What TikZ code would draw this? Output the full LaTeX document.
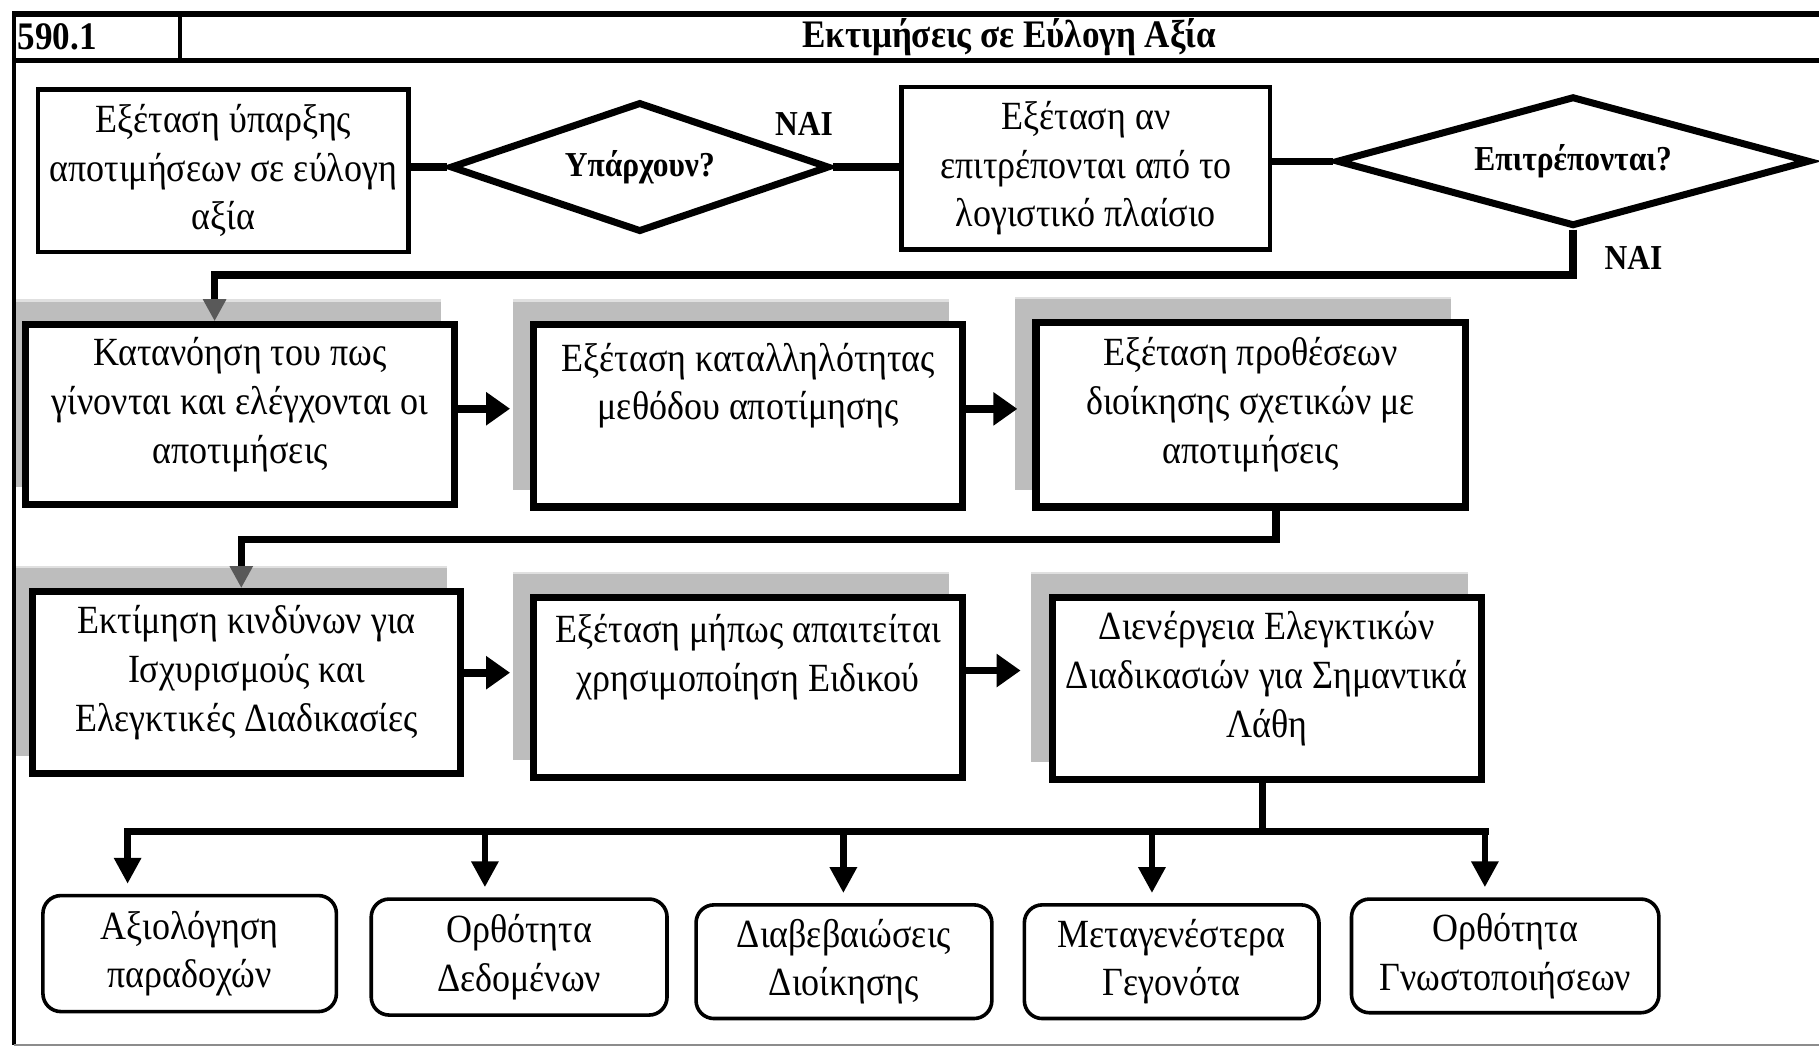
\documentclass[tikz,border=0pt]{standalone}
\usepackage{fontspec}
\setmainfont[FakeStretch=0.9]{Liberation Serif}
\usetikzlibrary{shapes.geometric,arrows.meta,backgrounds,calc}
\begin{document}
\begin{tikzpicture}[x=0.58pt,y=-0.58pt,
  wh/.style 2 args={minimum width=#1*0.58pt, minimum height=#2*0.58pt},
  txt/.style={font=\fontsize{20}{24.4}\selectfont, align=center, inner sep=0pt},
  boldtxt/.style={font=\fontsize{17.5}{20}\selectfont\bfseries, inner sep=0pt},
  headtxt/.style={font=\fontsize{19.5}{22}\selectfont\bfseries, inner sep=0pt},
  thinbox/.style={txt, draw, line width=2.2pt, fill=white},
  thickbox/.style={draw, line width=3.6pt, fill=white, inner sep=0pt},
  intext/.style={txt, yshift=5pt},
  roundbox/.style={txt, draw, line width=1.8pt, rounded corners=9pt, fill=white},
  decision/.style={boldtxt, draw, diamond, aspect=2.9, line width=3.5pt, fill=white},
  link/.style={line width=3.6pt},
  harrow/.style={line width=3.8pt, -{Triangle[length=12pt,width=16pt]}},
  darrow/.style={line width=3.2pt, -{Triangle[length=13pt,width=13pt]}},
  garrow/.style={line width=3.6pt, -{Triangle[length=11pt,width=11pt,color=black!65]}},
  shade/.style={fill=black!26},
  shadetop/.style={draw=black!12, line width=1.2pt},
]
\useasboundingbox (0,0) rectangle (1568,904);

% frame
\draw[line width=2.8pt] (10.5,12) -- (1568,12);
\draw[line width=2.8pt] (10.5,52) -- (1568,52);
\draw[line width=1.8pt] (155,12) -- (155,52);
\draw[line width=1.6pt] (12,11) -- (12,901);
\draw[line width=1pt, black!45] (12,901) -- (1568,901);

\node[headtxt, anchor=west] (num) at (15,32) {590.1};
\node[headtxt] (title) at (870,32) {Εκτιμήσεις σε Εύλογη Αξία};

% row 1
\node[thinbox, wh={319}{140}] (a) at (192.5,147) {Εξέταση ύπαρξης\\αποτιμήσεων σε εύλογη\\αξία};
\node[decision, wh={327}{112}] (d1) at (551.5,144) {Υπάρχουν?};
\node[thinbox, wh={318}{140}] (b) at (936,145) {Εξέταση αν\\επιτρέπονται από το\\λογιστικό πλαίσιο};
\node[decision, wh={408}{112}] (d2) at (1356,139) {Επιτρέπονται?};
\node[boldtxt] (yes1) at (693,107) {ΝΑΙ};
\node[boldtxt] (yes2) at (1408,222) {ΝΑΙ};

% row 2
\node[thickbox, wh={370}{155}, label={[intext]center:{Κατανόηση του πως\\γίνονται και ελέγχονται οι\\αποτιμήσεις}}] (c) at (207,357.5) {};
\node[thickbox, wh={370}{157}, label={[intext]center:{Εξέταση καταλληλότητας\\μεθόδου αποτίμησης\\\mbox{}}}] (d) at (645,358.5) {};
\node[thickbox, wh={370}{159}, label={[intext]center:{Εξέταση προθέσεων\\διοίκησης σχετικών με\\αποτιμήσεις}}] (e) at (1078,357.5) {};

% row 3
\node[thickbox, wh={369}{157}, label={[intext]center:{Εκτίμηση κινδύνων για\\Ισχυρισμούς και\\Ελεγκτικές Διαδικασίες}}] (f) at (212.5,588.5) {};
\node[thickbox, wh={370}{155}, label={[intext]center:{Εξέταση μήπως απαιτείται\\χρησιμοποίηση Ειδικού\\\mbox{}}}] (g) at (645,592.5) {};
\node[thickbox, wh={370}{157}, label={[intext]center:{Διενέργεια Ελεγκτικών\\Διαδικασιών για Σημαντικά\\Λάθη}}] (h) at (1092,593.5) {};

% row 4
\node[roundbox, wh={253}{100}] (r1) at (163.5,822) {Αξιολόγηση\\παραδοχών};
\node[roundbox, wh={255}{100}] (r2) at (447.5,825) {Ορθότητα\\Δεδομένων};
\node[roundbox, wh={255}{98}] (r3) at (727.5,829) {Διαβεβαιώσεις\\Διοίκησης};
\node[roundbox, wh={254}{98}] (r4) at (1010,829) {Μεταγενέστερα\\Γεγονότα};
\node[roundbox, wh={265}{98}] (r5) at (1297.5,824) {Ορθότητα\\Γνωστοποιήσεων};

% shadows
\begin{scope}[on background layer]
\clip (13,0) rectangle (1568,904);
\foreach \n in {c,d,e,f,g,h}{
  \fill[shade] ([shift={(-15,-18)}]\n.north west) rectangle ([shift={(-15,-18)}]\n.south east);
  \draw[shadetop] ([shift={(-15,-18)}]\n.north west) -- ([shift={(-15,-18)}]\n.north east);
}
\end{scope}

% row 1 links
\draw[link] (d1.west -| a.east) -- (d1.west);
\draw[link] (d1.east) -- (d1.east -| b.west);
\draw[link] (d2.west -| b.east) -- (d2.west);

% down to row 2
\coordinate (k1) at (185,237);
\draw[garrow] (d2.south) |- (k1) -- (c.north -| k1);

% row 2 arrows
\draw[harrow, shorten >=10pt] ([yshift=3pt]c.east) -- ([yshift=3pt]c.east -| d.west);
\draw[harrow, shorten >=7.5pt] ([yshift=3.5pt]d.east) -- ([yshift=3.5pt]d.east -| e.west);

% down to row 3
\coordinate (k2) at (1100,465);
\coordinate (k3) at (208,465);
\draw[garrow] (e.south -| k2) -- (k2) -- (k3) -- (f.north -| k3);

% row 3 arrows
\draw[harrow, shorten >=10pt] ([yshift=5pt]f.east) -- ([yshift=5pt]f.east -| g.west);
\draw[harrow, shorten >=14pt] ([yshift=8.4pt]g.east) -- ([yshift=8.4pt]g.east -| h.west);

% bus
\coordinate (bus) at (1088,717);
\draw[link] (h.south -| bus) -- (bus);
\foreach \n/\x in {r1/110, r2/418, r3/727, r4/993, r5/1280}{
  \coordinate (p\n) at (\x,717);
}
\draw[link, line cap=rect] (pr1) -- (pr5);
\foreach \n in {r1,r2,r3,r4,r5}{
  \draw[darrow, shorten >=5pt] (p\n) -- (\n.north -| p\n);
}
\end{tikzpicture}
\end{document}
